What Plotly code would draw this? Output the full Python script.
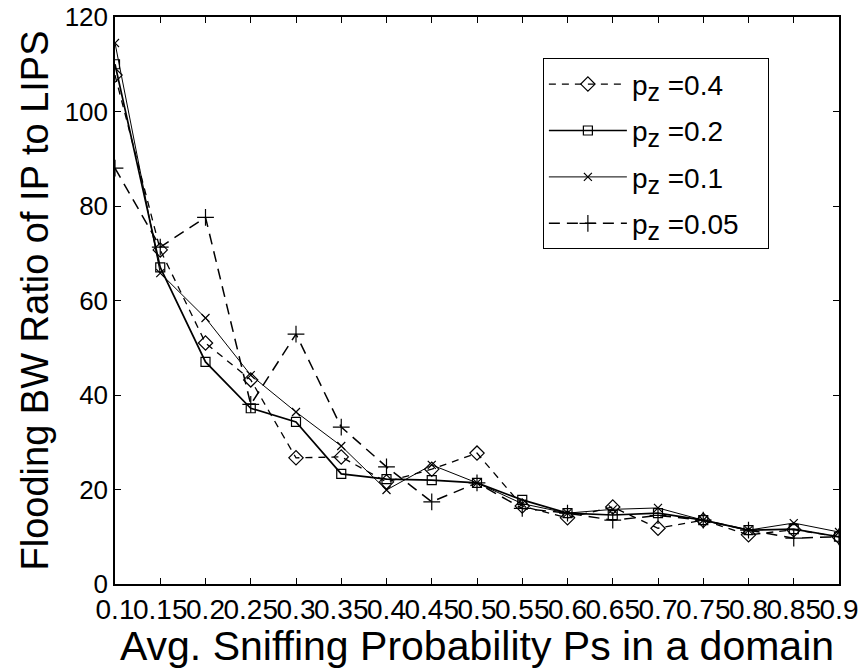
import plotly.graph_objects as go

x_vals = [0.1, 0.15, 0.2, 0.25, 0.3, 0.35, 0.4, 0.45, 0.5, 0.55, 0.6, 0.65, 0.7, 0.75, 0.8, 0.85, 0.9]
tick_labels = ["0.1", "0.15", "0.2", "0.25", "0.3", "0.35", "0.4", "0.45", "0.5", "0.55",
               "0.6", "0.65", "0.7", "0.75", "0.8", "0.85", "0.9"]
y_ticks = [0, 20, 40, 60, 80, 100, 120]

pz_04 = [107.7, 70.7, 51, 43.2, 26.7, 26.9, 21.6, 24.3, 27.7, 16.5, 14, 16.3, 11.8, 13.5, 10.4, 11.5, 10]
pz_02 = [110, 67, 47, 37.2, 34.3, 23.3, 22.2, 22, 21.4, 17.8, 15, 14.6, 15, 13.5, 11.4, 11.6, 10]
pz_01 = [114.5, 65.8, 56.3, 44.2, 36.4, 29.2, 19.9, 25.2, 21.4, 17, 15, 15.8, 16.1, 13.5, 11.4, 12.9, 11]
pz_005 = [88, 71.3, 77.6, 38, 52.9, 33.2, 24.8, 17.4, 21.4, 16, 15, 13.5, 14.5, 13.5, 11.4, 9.7, 10]

legend_names = ["0.4", "0.2", "0.1", "0.05"]

series = [
    (pz_04, "diamond-open", "7px,6px", 1.3, 11),
    (pz_02, "square-open", "solid", 1.7, 9),
    (pz_01, "x-thin", "solid", 1.0, 8),
    (pz_005, "cross-thin", "11px,7px", 1.5, 12),
]

fig = go.Figure()
for i, ((vals, sym, dash, w, ms), lab) in enumerate(zip(series, legend_names)):
    name = "p<sub><span style='font-size:25px'>z</span></sub> =" + lab + "\u00a0" * 3
    fig.add_trace(go.Scatter(
        x=x_vals, y=vals, name=name, mode="lines+markers", legendgroup=f"g{i}",
        line=dict(color="black", width=w, dash=dash),
        marker=dict(symbol=sym, size=ms, color="black",
                    line=dict(color="black", width=1.2)),
    ))

font_family = "Liberation Sans, Arial, sans-serif"
fig.update_layout(
    width=864, height=669,
    margin=dict(l=115, r=25, t=17, b=85),
    paper_bgcolor="white", plot_bgcolor="white",
    font=dict(family=font_family, color="black"),
    showlegend=True,
    legend=dict(x=0.591, y=0.927, xanchor="left", yanchor="top",
                bordercolor="black", borderwidth=1, bgcolor="white",
                font=dict(size=28, family=font_family), itemwidth=78,
                traceorder="grouped", tracegroupgap=7),
)
fig.update_xaxes(
    range=[0.1, 0.9], tickmode="array", tickvals=x_vals, ticktext=tick_labels,
    ticks="inside", ticklen=6, tickcolor="black", mirror="allticks",
    showline=True, linecolor="black", linewidth=1.5, showgrid=False, zeroline=False,
    tickfont=dict(size=28, family="Liberation Sans Narrow, Arial Narrow, Liberation Sans"),
    tickangle=0, automargin=False,
    title=dict(text="Avg. Sniffing Probability Ps in a domain", font=dict(size=41), standoff=0),
)
fig.update_yaxes(
    range=[0, 120], tickmode="array", tickvals=y_ticks,
    ticks="inside", ticklen=6, tickcolor="black", mirror="allticks",
    showline=True, linecolor="black", linewidth=1.5,
    showgrid=False, zeroline=False, automargin=False,
    tickfont=dict(size=26),
    title=dict(text="Flooding BW Ratio of IP to LIPS", font=dict(size=38), standoff=4),
)

fig.write_html("out.html")
